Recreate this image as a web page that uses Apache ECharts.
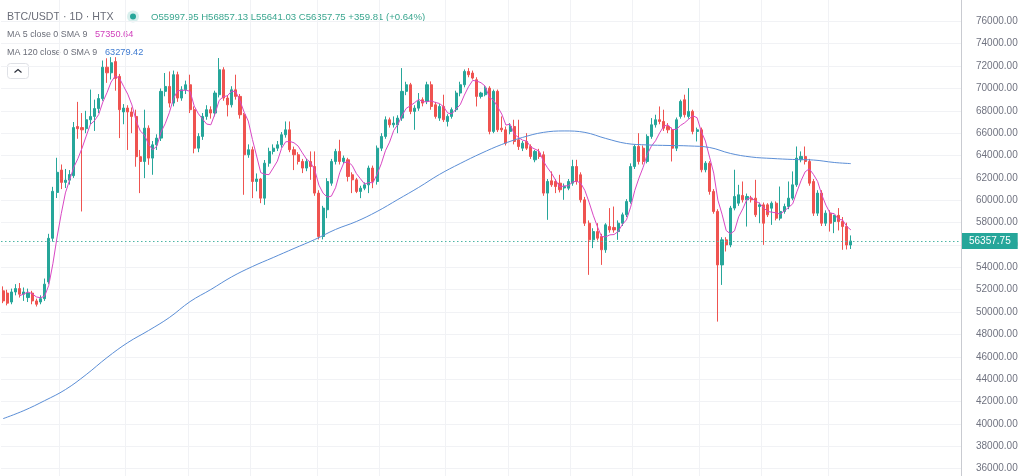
<!DOCTYPE html>
<html><head><meta charset="utf-8">
<script src="https://cdn.jsdelivr.net/npm/echarts@6/dist/echarts.min.js"></script>
<style>html,body{margin:0;padding:0;background:#fff;overflow:hidden}
#wrap{position:relative;width:1024px;height:476px;overflow:hidden}
#c{position:absolute;left:0;top:-1px;width:1024px;height:492px}</style>
</head><body><div id="wrap"><div id="c"></div></div>
<script>
// ---- data ----
const opens = [51900,51700,50900,51800,52100,51600,51300,51700,51000,50900,51200,52700,56600,60700,62700,61600,61800,62200,66600,66500,66400,67200,67500,68200,69100,71900,71400,72400,71080,67900,68250,67900,67500,63900,63470,66450,63770,64960,65560,69740,70180,68690,71230,69140,69880,70330,68100,64660,65710,67500,68100,67800,69440,71670,69140,68540,69880,69290,67650,64070,64520,61680,61900,60190,63320,64370,64660,64960,65860,66300,64520,64070,63470,62880,63470,63020,60640,56760,59150,61530,63470,64370,63470,63620,62280,61830,60790,61080,61380,62880,61680,64660,65710,67200,66750,66750,67350,69740,70330,67950,68240,68990,68840,70330,68540,67350,68390,67050,67500,68100,69590,70330,71520,71380,70780,69290,69440,70030,66160,69740,66450,66300,66160,66600,65410,64660,65260,64810,63620,64220,64070,60640,61740,61680,61530,61100,61080,61530,63020,62280,60040,57950,56460,57200,56760,55570,57650,57570,57200,57950,58700,59890,63020,64810,64660,63470,65710,66750,67200,67050,66600,66300,64660,67500,68990,67500,67950,66160,66300,62730,63320,60790,59000,54220,56460,56010,59300,59740,60430,60040,60190,60190,59440,59590,59590,59290,59740,58400,59000,59440,60190,61380,63620,63920,63470,61680,58850,60640,57950,58850,58100,58650,58100,57650,55997.95];
const highs = [52300,52000,52100,52500,52600,52200,52100,51900,51200,51500,53000,57000,61200,63800,63200,62800,62700,67000,68800,67800,68000,69900,69000,69500,72500,72700,72800,72800,71300,68600,68500,68300,68100,64500,68100,66700,65300,65900,70000,71380,71520,71600,71500,70200,70700,71230,68400,66000,67800,68500,68400,69800,72720,71900,69400,70200,71230,69500,67800,65000,64800,62400,62000,63600,64700,65000,65300,66100,67050,67050,64800,64300,63700,63700,64370,64370,60900,59500,61980,63700,64600,65410,64000,63800,62500,62000,61300,61600,63100,63100,64900,66000,67500,67400,67500,67600,71820,70600,70500,68500,69590,69200,70600,70630,68800,68600,69440,67700,68300,69800,70600,71700,71820,71600,71000,69700,70200,70200,69900,69900,67500,66600,66900,67200,67200,65300,66000,65000,64500,64600,64370,61900,62580,61900,62280,61500,61900,63620,63620,62500,60300,58200,57500,57950,57000,57950,59300,59440,58200,58900,60100,63300,64960,66000,64900,65900,67350,67650,68390,68100,66900,66500,67400,69000,69440,70030,68100,66500,66500,63500,63500,61000,59200,56700,56700,59500,62730,61380,61680,60600,60400,61830,59800,59800,59740,59900,59900,61230,59700,61680,62580,64810,64370,64810,63700,61900,60900,60900,59100,59100,58700,59300,58500,58000,56857.13];
const lows = [50800,50600,50700,51500,51300,51000,50900,50700,50500,50700,51000,52500,56300,60200,61000,61100,61400,62000,65500,59000,66000,66800,66200,67800,68900,70500,70800,69800,65560,66800,64500,66000,63000,60640,61980,63170,62280,64500,65300,69300,68300,68400,68800,68900,69500,67800,64200,64300,65400,67200,67300,67500,69200,68900,67500,68300,69000,67300,60490,63800,60190,60800,59740,59590,63000,64100,64400,64700,65600,64300,62700,63200,62430,62600,61830,60400,56500,56500,58400,61300,63200,63200,63300,61680,60640,60640,60190,60900,60640,61080,61400,64400,65500,66500,66500,66000,67100,69400,67700,66300,68000,68400,68600,68100,67300,67100,67000,66600,67300,67900,69300,70100,71000,70800,68390,69100,69300,65900,66000,66100,66100,64900,65900,65000,64500,64400,64500,63700,63400,63700,60400,58250,61200,60640,60700,60040,60900,61300,61400,59800,57700,53330,55720,56400,54220,55300,57100,57100,56460,57700,58500,59700,62800,63200,63200,63300,65500,66500,66800,66200,66000,63470,64400,67300,67400,67300,65900,65260,62500,62500,60500,58800,49150,52430,55420,55800,59100,59500,59800,57650,59800,58500,57950,56010,58500,57800,58200,58200,58800,59200,60000,61200,63400,63200,61300,58600,58600,57700,57700,57200,57060,57300,55570,55600,55641.03];
const closes = [51000,50800,51800,52100,51600,51800,51700,51000,50700,51200,52500,56600,60800,62500,61600,61800,62300,66500,66400,66300,67200,67500,68200,69100,71900,71400,72300,70900,68100,68250,67900,67500,63900,63470,66450,63770,64960,65560,69740,70180,68690,71230,69140,69880,70330,68100,64660,65710,67500,68100,67800,69590,71670,69140,68540,69880,69290,67650,64070,64520,61680,61900,60190,63320,64370,64660,64960,65860,66300,64520,64070,63470,62880,63470,63020,60640,56760,59300,61680,63470,64370,63470,63770,62130,61830,60790,61080,61380,62880,61680,64660,65710,67200,66750,66900,67350,69740,70330,67950,68240,68840,68690,70330,68390,67500,68390,67200,67500,68100,69590,70330,71520,71230,70930,69290,69590,70030,66160,69740,66300,66300,65110,66600,65260,64810,65110,64660,63920,64370,63920,60640,61680,61380,61230,60940,61230,61680,63020,61680,60040,57950,56460,57200,56610,55570,57800,57350,57350,57950,58700,59890,63020,64810,63470,63470,65710,66750,67200,67050,66450,66300,64660,67200,68840,67650,67950,66160,66300,62730,63320,60790,59000,54220,56460,56010,59300,60340,60490,60040,60340,60040,58700,59590,57950,58700,59740,58400,59000,59440,60190,61380,63770,63920,63470,61530,58850,60640,57950,58850,57950,58650,58100,57650,55997.94,56357.75];
// MA 120 line, read at every 5th candle (plus the last one)
const ma120Index = [0,5,10,15,20,25,30,35,40,45,50,55,60,65,70,75,80,85,90,95,100,105,110,115,120,125,130,135,140,145,150,155,160,165,170,175,180,185,190,195,200,204];
const ma120Value = [40470,41190,42080,43070,44410,45930,47270,48350,49510,50940,52020,53150,54075,54880,55690,56490,57390,58100,59000,60070,61150,62310,63290,64190,64990,65620,66070,66200,66070,65530,65080,64950,64900,64860,64720,64190,63870,63740,63650,63600,63380,63279.42];
const yTicks = {min: 34000, max: 78000, step: 2000};
const headerTexts = {
  symbol: 'BTC/USDT · 1D · HTX',
  ohlc: 'O55997.95 H56857.13 L55641.03 C56357.75 +359.81 (+0.64%)',
  ma5Label: 'MA 5 close 0 SMA 9', ma5Value: '57350.64',
  ma120Label: 'MA 120 close 0 SMA 9', ma120Value: '63279.42'
};
const emptySlots = 26;           // empty space right of the last candle
const vGridIdx = [14,30,45,60,76,91,107,122,137,152,168,183,199];

// ---- build ----
const N = closes.length;
const categories = [];
const d0 = new Date(Date.UTC(2024,1,15));
for (let i = 0; i < N + emptySlots; i++) {
  const d = new Date(d0.getTime() + i*86400000);
  categories.push(d.toISOString().slice(0,10));
}
const candleData = closes.map((c,i) => [opens[i], c, lows[i], highs[i]]);
const ma5 = closes.map((c,i) => {
  if (i < 4) return null;
  let s = 0; for (let k = i-4; k <= i; k++) s += closes[k];
  return +(s/5).toFixed(2);
});
const ma120 = new Array(N).fill(null);
ma120Index.forEach((idx,k) => { ma120[idx] = ma120Value[k]; });
const last = closes[N-1];

const UP = '#26a69a', DOWN = '#ef5350';
const FONT = 'Liberation Sans, Arial, sans-serif';
const OY = 1; // the chart box starts 1px above the page
const chart = echarts.init(document.getElementById('c'), null, {renderer: 'canvas'});
chart.setOption({
  animation: false,
  backgroundColor: '#ffffff',
  grid: {left: 1, right: 63, top: 0, bottom: 0},
  xAxis: {
    type: 'category', data: categories, boundaryGap: true,
    axisLine: {show: false}, axisTick: {show: false}, axisLabel: {show: false},
    splitLine: {show: true, interval: (i) => vGridIdx.indexOf(i) >= 0, lineStyle: {color: '#f1f2f5', width: 1}}
  },
  yAxis: {
    type: 'value', position: 'right', min: yTicks.min, max: yTicks.max, interval: yTicks.step,
    axisLine: {show: true, lineStyle: {color: '#c9cbd1', width: 1}},
    axisTick: {show: false},
    axisLabel: {show: true, showMinLabel: false, showMaxLabel: false, margin: 15,
      color: '#707380', fontSize: 10, fontFamily: FONT, formatter: v => v.toFixed(2)},
    splitLine: {show: true, lineStyle: {color: '#f1f2f5', width: 1}}
  },
  series: [
    {
      type: 'candlestick', data: candleData, barWidth: 2.6,
      itemStyle: {color: UP, color0: DOWN, borderColor: UP, borderColor0: DOWN, borderWidth: 1},
      markLine: {
        silent: true, symbol: ['none','none'],
        lineStyle: {type: [1.5, 2.5], color: '#4db6a5', width: 1},
        label: {show: true, position: 'end', distance: 1, formatter: () => last.toFixed(2),
          backgroundColor: UP, color: '#fff', padding: [3,7,3,7], fontSize: 10, fontFamily: FONT},
        data: [{yAxis: last}]
      },
      z: 2
    },
    {
      type: 'line', data: ma5, showSymbol: false, connectNulls: false,
      lineStyle: {color: '#d948c4', width: 1}, itemStyle: {color: '#d948c4'}, z: 3
    },
    {
      type: 'line', data: ma120, showSymbol: false, connectNulls: true, smooth: 0.4,
      lineStyle: {color: '#5b8ed6', width: 1}, itemStyle: {color: '#5b8ed6'}, z: 3
    }
  ],
  graphic: [
    {type: 'text', x: 7, y: 17 + OY, style: {text: headerTexts.symbol, fill: '#6a6d78', fontSize: 10.6, fontFamily: FONT, verticalAlign: 'middle'}},
    {type: 'circle', shape: {cx: 133, cy: 16.5 + OY, r: 6}, style: {fill: 'rgba(38,166,154,0.18)'}},
    {type: 'circle', shape: {cx: 133, cy: 16.5 + OY, r: 3}, style: {fill: UP}},
    {type: 'text', x: 151, y: 17 + OY, style: {text: headerTexts.ohlc, fill: '#3aa68f', fontSize: 9.6, fontFamily: FONT, verticalAlign: 'middle'}},
    {type: 'text', x: 7, y: 34.5 + OY, style: {text: headerTexts.ma5Label, fill: '#6a6d78', fontSize: 8.9, fontFamily: FONT, verticalAlign: 'middle'}},
    {type: 'text', x: 95, y: 34.5 + OY, style: {text: headerTexts.ma5Value, fill: '#d03fbb', fontSize: 9.2, fontFamily: FONT, verticalAlign: 'middle'}},
    {type: 'text', x: 7, y: 52.5 + OY, style: {text: headerTexts.ma120Label, fill: '#6a6d78', fontSize: 8.9, fontFamily: FONT, verticalAlign: 'middle'}},
    {type: 'text', x: 105, y: 52.5 + OY, style: {text: headerTexts.ma120Value, fill: '#3f7bd0', fontSize: 9.2, fontFamily: FONT, verticalAlign: 'middle'}},
    {type: 'rect', shape: {x: 7.5, y: 63.5 + OY, width: 21, height: 15, r: 3}, style: {fill: '#fff', stroke: '#dfe1e6', lineWidth: 1}},
    {type: 'polyline', shape: {points: [[14.5,72.5 + OY],[18,69.5 + OY],[21.5,72.5 + OY]]}, style: {stroke: '#2a2e39', lineWidth: 1.2, fill: null}}
  ]
});
</script></body></html>
